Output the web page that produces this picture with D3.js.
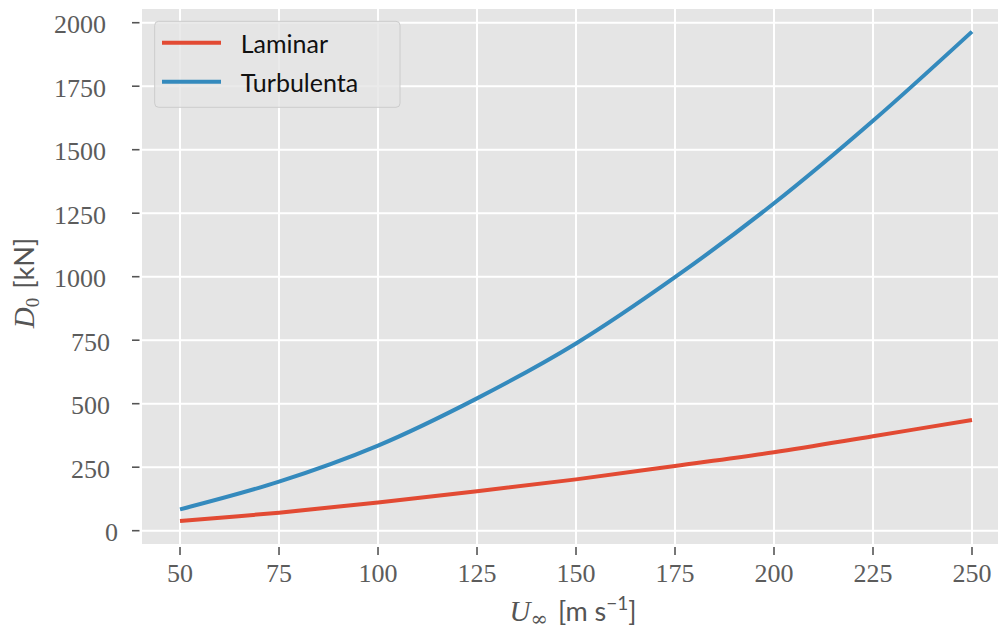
<!DOCTYPE html>
<html>
<head>
  <meta charset="UTF-8">
  <title>Drag vs speed</title>
  <script src="https://d3js.org/d3.v7.min.js"></script>
  <style>
    body { margin: 0; background: #fff; }
    .tick-label { font-family: "Liberation Serif", serif; font-size: 26px; fill: #5c5c5c; }
    .legend-text { font-family: Lato, sans-serif; font-size: 25px; fill: #111; }
    .axis-label { font-family: Lato, sans-serif; font-size: 27px; fill: #555; }
    .grid { stroke: #fff; stroke-width: 2; }
  </style>
</head>
<body>
  <div id="chart"></div>
  <script>
    // values
    const speeds = [50, 75, 100, 125, 150, 175, 200, 225, 250];
    const laminar = [38, 71, 111, 155, 202, 255, 309, 372, 436];
    const turbulent = [84, 193, 335, 521, 737, 998, 1289, 1614, 1965];
    const xTicks = [50, 75, 100, 125, 150, 175, 200, 225, 250];
    const yTicks = [0, 250, 500, 750, 1000, 1250, 1500, 1750, 2000];
    const seriesNames = ["Laminar", "Turbulenta"];
    const colors = ["#E24A33", "#348ABD"];

    const W = 998, H = 632;
    const x = d3.scaleLinear().domain([40.4, 260]).range([142, 1011.6]);
    const y = d3.scaleLinear().domain([-52.4, 2054]).range([544, 9]);

    const svg = d3.select("#chart").append("svg")
      .attr("width", W).attr("height", H);

    svg.append("rect")
      .attr("x", x.range()[0]).attr("y", y.range()[1])
      .attr("width", x.range()[1] - x.range()[0])
      .attr("height", y.range()[0] - y.range()[1])
      .attr("fill", "#E5E5E5");

    // grid
    svg.selectAll(".gx").data(xTicks).enter().append("line")
      .attr("class", "grid")
      .attr("x1", d => x(d)).attr("x2", d => x(d))
      .attr("y1", y.range()[1]).attr("y2", y.range()[0]);
    svg.selectAll(".gy").data(yTicks).enter().append("line")
      .attr("class", "grid")
      .attr("y1", d => y(d)).attr("y2", d => y(d))
      .attr("x1", x.range()[0]).attr("x2", x.range()[1]);

    // ticks
    svg.selectAll(".tx").data(xTicks).enter().append("line")
      .attr("x1", d => x(d)).attr("x2", d => x(d))
      .attr("y1", 547).attr("y2", 555)
      .attr("stroke", "#555").attr("stroke-width", 1.6);
    svg.selectAll(".lx").data(xTicks).enter().append("text")
      .attr("class", "tick-label")
      .attr("x", d => x(d)).attr("y", 582)
      .attr("text-anchor", "middle")
      .text(d => d);

    svg.selectAll(".ty").data(yTicks).enter().append("line")
      .attr("y1", d => y(d)).attr("y2", d => y(d))
      .attr("x1", 132).attr("x2", 139.5)
      .attr("stroke", "#555").attr("stroke-width", 1.6);
    svg.selectAll(".ly").data(yTicks).enter().append("text")
      .attr("class", "tick-label")
      .attr("x", 122).attr("y", d => y(d) + 10.5)
      .attr("text-anchor", "end")
      .attr("dx", d => (-0.155 * String(d).length) + "em")
      .text(d => d);

    // curves
    const line = d3.line()
      .x(d => x(d[0])).y(d => y(d[1]))
      .curve(d3.curveCatmullRom.alpha(0.5));
    [laminar, turbulent].forEach((vals, i) => {
      svg.append("path")
        .datum(speeds.map((s, j) => [s, vals[j]]))
        .attr("d", line)
        .attr("fill", "none")
        .attr("stroke", colors[i])
        .attr("stroke-width", 4);
    });

    // legend
    const lg = svg.append("g");
    lg.append("rect")
      .attr("x", 154.7).attr("y", 21.3)
      .attr("width", 245.3).attr("height", 86)
      .attr("rx", 4).attr("ry", 4)
      .attr("fill", "#E5E5E5").attr("fill-opacity", 0.8)
      .attr("stroke", "#CCCCCC").attr("stroke-width", 1);
    seriesNames.forEach((name, i) => {
      const ly = 42.7 + i * 39;
      lg.append("line")
        .attr("x1", 162).attr("x2", 221)
        .attr("y1", ly).attr("y2", ly)
        .attr("stroke", colors[i]).attr("stroke-width", 4);
      lg.append("text")
        .attr("class", "legend-text")
        .attr("x", 240.7).attr("y", ly + 10)
        .text(name);
    });

    // x label
    const xl = svg.append("text")
      .attr("class", "axis-label")
      .attr("x", 573).attr("y", 621)
      .attr("text-anchor", "middle");
    xl.append("tspan").attr("font-family", "Liberation Serif, serif")
      .attr("font-style", "italic").attr("font-size", 29).text("U");
    xl.append("tspan").attr("font-family", "DejaVu Serif, serif")
      .attr("font-size", 21).attr("dy", 5).text("∞");
    xl.append("tspan").attr("dy", -5).attr("dx", 10).text("[m s");
    xl.append("tspan").attr("font-size", 19).attr("dy", -11).text("−1");
    xl.append("tspan").attr("dy", 11).text("]");

    // y label
    const yl = svg.append("text")
      .attr("class", "axis-label")
      .attr("transform", "translate(33.5,283) rotate(-90)")
      .attr("text-anchor", "middle");
    yl.append("tspan").attr("font-family", "Liberation Serif, serif")
      .attr("font-style", "italic").attr("font-size", 29).text("D");
    yl.append("tspan").attr("font-family", "Liberation Serif, serif")
      .attr("font-size", 19).attr("dy", 5).text("0");
    yl.append("tspan").attr("dy", -5).attr("dx", 9).text("[kN]");
  </script>
</body>
</html>
